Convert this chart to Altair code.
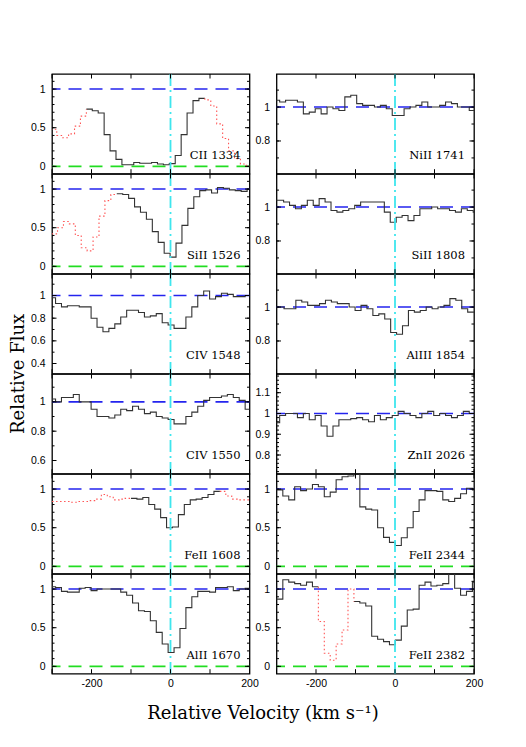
import altair as alt
import pandas as pd

LINES_LEFT = ["CII 1334", "SiII 1526", "CIV 1548", "CIV 1550", "FeII 1608", "AlII 1670"]
LINES_RIGHT = ["NiII 1741", "SiII 1808", "AlIII 1854", "ZnII 2026", "FeII 2344", "FeII 2382"]

# left edges of the 15 km/s pixel grid (before the per-line shift)
BIN_START = [-315, -300, -285, -270, -255, -240, -225, -210, -195, -180, -165, -150,
             -135, -120, -105, -90, -75, -60, -45, -30, -15, 0, 15, 30, 45, 60, 75,
             90, 105, 120, 135, 150, 165, 180, 195]
BIN_WIDTH = 15
GRID_SHIFT = {
    "CII 1334": 12, "SiII 1526": 14, "CIV 1548": 9, "CIV 1550": 9, "FeII 1608": 5,
    "AlII 1670": 9, "NiII 1741": 8, "SiII 1808": 3, "AlIII 1854": 4, "ZnII 2026": 8,
    "FeII 2344": 1, "FeII 2382": 1,
}

FLUX = {
    "CII 1334": [0.48, 0.40, 0.37, 0.42, 0.52, 0.65, 0.74, 0.72, 0.69, 0.41, 0.20, 0.09,
                 0.02, 0.02, 0.05, 0.04, 0.04, 0.05, 0.03, 0.02, 0.035, 0.14, 0.41, 0.69,
                 0.85, 0.88, 0.86, 0.78, 0.55, 0.36, 0.20, 0.10, 0.03, 0.00, 0.00],
    "SiII 1526": [0.42, 0.50, 0.58, 0.55, 0.40, 0.24, 0.20, 0.38, 0.65, 0.85, 0.93,
                  0.94, 0.93, 0.88, 0.77, 0.70, 0.61, 0.45, 0.31, 0.17, 0.12, 0.30, 0.53,
                  0.75, 0.90, 0.98, 0.99, 0.95, 1.02, 1.01, 0.99, 0.98, 0.97, 1.00, 1.00],
    "CIV 1548": [0.98, 0.93, 0.90, 0.91, 0.91, 0.90, 0.90, 0.80, 0.72, 0.68, 0.71, 0.75,
                 0.81, 0.87, 0.87, 0.85, 0.81, 0.82, 0.84, 0.76, 0.74, 0.71, 0.71, 0.81,
                 0.90, 1.00, 1.04, 0.97, 0.99, 1.02, 1.01, 0.99, 0.99, 1.00, 1.00],
    "CIV 1550": [1.02, 1.00, 1.03, 1.03, 1.05, 1.00, 1.00, 0.95, 0.90, 0.90, 0.89, 0.91,
                 0.95, 0.94, 0.97, 0.95, 0.92, 0.93, 0.90, 0.89, 0.88, 0.85, 0.85, 0.90,
                 0.93, 0.97, 1.01, 1.03, 1.03, 1.04, 1.05, 1.03, 1.01, 0.95, 0.95],
    "FeII 1608": [0.84, 0.84, 0.84, 0.84, 0.83, 0.84, 0.84, 0.85, 0.87, 0.93, 0.90, 0.86,
                  0.87, 0.88, 0.88, 0.87, 0.89, 0.80, 0.74, 0.63, 0.50, 0.51, 0.67, 0.80,
                  0.86, 0.87, 0.89, 0.93, 0.97, 0.97, 0.91, 0.87, 0.86, 0.86, 0.86],
    "AlII 1670": [1.03, 1.02, 0.97, 0.96, 0.96, 1.01, 1.02, 0.98, 1.00, 1.00, 1.00, 1.00,
                  0.96, 0.92, 0.82, 0.72, 0.71, 0.59, 0.44, 0.29, 0.18, 0.24, 0.49, 0.76,
                  0.90, 0.97, 0.97, 0.96, 1.02, 1.02, 1.03, 0.98, 1.00, 1.01, 1.01],
    "NiII 1741": [1.04, 1.03, 1.04, 1.04, 1.03, 0.96, 0.97, 0.99, 0.96, 1.00, 0.99, 0.98,
                  1.06, 1.07, 1.02, 1.01, 1.01, 1.00, 1.01, 0.99, 0.95, 0.95, 0.99, 1.00,
                  1.01, 1.03, 1.00, 1.00, 1.01, 1.03, 1.02, 1.00, 1.00, 0.98, 1.00],
    "SiII 1808": [1.04, 1.04, 1.03, 1.01, 0.99, 1.01, 1.04, 1.01, 1.05, 1.03, 0.98, 0.97,
                  0.98, 0.99, 1.01, 1.03, 1.03, 1.03, 1.03, 0.97, 0.91, 0.94, 0.95, 0.92,
                  0.95, 0.99, 0.99, 1.00, 0.99, 0.99, 0.98, 0.97, 0.99, 0.98, 0.97],
    "AlIII 1854": [1.00, 1.00, 0.99, 0.99, 1.04, 1.03, 1.01, 1.01, 1.02, 1.04, 1.03, 1.02,
                   1.02, 1.00, 0.98, 1.01, 0.99, 0.95, 0.96, 0.93, 0.85, 0.84, 0.89, 0.98,
                   0.97, 0.98, 1.00, 0.99, 1.00, 1.01, 1.05, 1.04, 0.99, 0.97, 0.97],
    "ZnII 2026": [0.955, 0.99, 1.00, 1.00, 0.98, 1.00, 0.97, 0.99, 0.94, 0.89, 0.94, 0.97,
                  0.97, 0.975, 0.98, 0.97, 0.96, 0.99, 0.97, 0.98, 0.99, 1.01, 1.00, 0.99,
                  0.98, 1.00, 1.01, 0.99, 1.00, 0.99, 0.98, 0.99, 1.01, 1.00, 1.00],
    "FeII 2344": [0.99, 0.99, 0.91, 0.86, 1.03, 0.98, 1.00, 1.06, 1.03, 0.90, 0.96, 1.12,
                  1.16, 1.17, 1.30, 0.77, 0.74, 0.73, 0.50, 0.375, 0.31, 0.27, 0.37, 0.50,
                  0.71, 0.86, 0.98, 0.98, 0.97, 0.86, 0.84, 0.88, 0.94, 1.01, 0.99],
    "FeII 2382": [0.87, 0.87, 1.12, 1.09, 1.07, 1.05, 1.09, 1.03, 0.58, 0.17, 0.08, 0.29,
                  0.47, 1.00, 0.84, 0.82, 0.78, 0.39, 0.35, 0.32, 0.28, 0.34, 0.52, 0.73,
                  0.74, 1.05, 1.09, 1.04, 1.05, 1.07, 1.35, 1.01, 0.92, 0.97, 1.09],
}

# velocity ranges (bin start) drawn as red dotted (blended regions)
RED_RANGES = {
    "CII 1334": [(-999, -213), (87, 999)],
    "SiII 1526": [(-999, -136)],
    "FeII 1608": [(-999, -100), (125, 999)],
    "FeII 2382": [(-194, -104)],
}

BIG = (-0.095, 1.195)
Y_DOMAIN = {
    "CII 1334": BIG, "SiII 1526": BIG, "CIV 1548": (0.31, 1.19), "CIV 1550": (0.51, 1.19),
    "FeII 1608": BIG, "AlII 1670": BIG, "NiII 1741": (0.607, 1.195),
    "SiII 1808": (0.607, 1.195), "AlIII 1854": (0.607, 1.195), "ZnII 2026": (0.71, 1.19),
    "FeII 2344": BIG, "FeII 2382": BIG,
}
Y_MAJOR = {
    "CII 1334": [0, 0.5, 1], "SiII 1526": [0, 0.5, 1], "CIV 1548": [0.4, 0.6, 0.8, 1],
    "CIV 1550": [0.6, 0.8, 1], "FeII 1608": [0, 0.5, 1], "AlII 1670": [0, 0.5, 1],
    "NiII 1741": [0.8, 1], "SiII 1808": [0.8, 1], "AlIII 1854": [0.8, 1],
    "ZnII 2026": [0.8, 0.9, 1, 1.1], "FeII 2344": [0, 0.5, 1], "FeII 2382": [0, 0.5, 1],
}
Y_MINOR_STEP = {
    "CII 1334": 0.1, "SiII 1526": 0.1, "CIV 1548": 0.1, "CIV 1550": 0.1, "FeII 1608": 0.1,
    "AlII 1670": 0.1, "NiII 1741": 0.1, "SiII 1808": 0.1, "AlIII 1854": 0.1,
    "ZnII 2026": 0.02, "FeII 2344": 0.1, "FeII 2382": 0.1,
}
X_TICKS = [-300, -200, -100, 0, 100, 200]
X_LABELS = [-200, 0, 200]

W, H = 197.5, 99.7
L, LM = 4.5, 2.5
TICK_FONT = "Liberation Sans"
SERIF = "DejaVu Serif"


def minor_ticks(lo, hi, step):
    out = []
    k = int(lo / step) - 1
    while k * step <= hi:
        v = round(k * step, 4)
        if lo < v < hi:
            out.append(v)
        k += 1
    return out


def build_rows(name):
    shift = GRID_SHIFT[name]
    fl = FLUX[name]
    edges = [b + shift for b in BIN_START] + [BIN_START[-1] + BIN_WIDTH + shift]
    n = len(fl)
    red = [any(a <= edges[i] < b for a, b in RED_RANGES.get(name, [])) for i in range(n)]
    rows = []
    run = 0
    i = 0
    while i < n:
        j = i
        while j < n and red[j] == red[i]:
            j += 1
        pts = []
        if red[i] and i > 0:
            pts.append((edges[i], fl[i - 1]))
        for k in range(i, j):
            pts.append((edges[k], fl[k]))
        pts.append((edges[j], fl[j - 1]))
        if red[i] and j < n:
            pts.append((edges[j], fl[j]))
        for o, (v, f) in enumerate(pts):
            rows.append({"run": run, "ord": o, "v": v, "f": f,
                         "style": "red" if red[i] else "black"})
        run += 1
        i = j
    return pd.DataFrame(rows, columns=["run", "ord", "v", "f", "style"])


def panel(name, row, col):
    lo, hi = Y_DOMAIN[name]
    xs = alt.Scale(domain=[-300, 200], nice=False, zero=False)
    ys = alt.Scale(domain=[lo, hi], nice=False, zero=False)
    df = build_rows(name)
    blk = df[df["style"] == "black"]
    red = df[df["style"] == "red"]
    minor = minor_ticks(lo, hi, Y_MINOR_STEP[name])

    xkw = dict(orient="bottom", values=X_LABELS, ticks=False, domain=False, grid=False,
               labels=(row == 5), labelFlush=False, labelPadding=5,
               labelExpr="(datum.value < 0 ? '-' : '') + abs(datum.value)")
    if row == 5 and col == 0:
        xkw.update(title="Relative Velocity (km s\u207b\u00b9)", titleX=210.5, titleY=44.5,
                   titleAlign="center", titleBaseline="alphabetic")
    else:
        xkw.update(title=None)
    xaxis = alt.Axis(**xkw)

    ykw = dict(orient="left", values=Y_MAJOR[name], ticks=False, domain=False, grid=False,
               labels=True, format="~g", labelPadding=7)
    if row == 2 and col == 0:
        ykw.update(title="Relative Flux", titleX=-34, titleY=99.4, titleAngle=-90,
                   titleAlign="center", titleBaseline="middle")
    else:
        ykw.update(title=None)
    yaxis = alt.Axis(**ykw)

    ymaj = pd.DataFrame({"t": Y_MAJOR[name]})
    ymin = pd.DataFrame({"t": minor})
    xmaj = pd.DataFrame({"t": X_TICKS})

    def ytick(data, x0, x1):
        return alt.Chart(data).mark_rule(color="black", strokeWidth=1).encode(
            y=alt.Y("t:Q", scale=ys, axis=yaxis), x=alt.value(x0), x2=alt.value(x1))

    def xtick(data, y0, y1):
        return alt.Chart(data).mark_rule(color="black", strokeWidth=1).encode(
            x=alt.X("t:Q", scale=xs, axis=xaxis), y=alt.value(y0), y2=alt.value(y1))

    ticks = [
        ytick(ymaj, 0, L), ytick(ymaj, W, W - L),
        ytick(ymin, 0, LM), ytick(ymin, W, W - LM),
        xtick(xmaj, 0, L), xtick(xmaj, H, H - L),
    ]

    blue = alt.Chart().mark_rule(color="#2424ee", strokeWidth=1.6, strokeDash=[13, 8]).encode(
        y=alt.Y(datum=1, scale=ys, axis=yaxis))
    green = alt.Chart().mark_rule(color="#22dd22", strokeWidth=1.6, strokeDash=[13, 8],
                                  clip=True).encode(
        y=alt.Y(datum=0, scale=ys, axis=yaxis))
    black = alt.Chart(blk).mark_line(interpolate="step-after", color="#333333",
                                     strokeWidth=1.1, clip=True).encode(
        x=alt.X("v:Q", scale=xs, axis=xaxis),
        y=alt.Y("f:Q", scale=ys, axis=yaxis),
        detail="run:N", order="ord:Q")
    layers = [blue, green, black]
    if len(red):
        redl = alt.Chart(red).mark_line(interpolate="step-after", color="#ff5555",
                                        strokeWidth=1.1, strokeDash=[1.5, 2.5],
                                        clip=True).encode(
            x=alt.X("v:Q", scale=xs, axis=xaxis),
            y=alt.Y("f:Q", scale=ys, axis=yaxis),
            detail="run:N", order="ord:Q")
        layers.append(redl)
    cyan = alt.Chart().mark_rule(color="#3ee6ee", strokeWidth=1.8,
                                 strokeDash=[12, 4, 2, 4]).encode(
        x=alt.X(datum=0, scale=xs, axis=xaxis))
    label = alt.Chart().mark_text(text=name, align="right", baseline="alphabetic",
                                  font=SERIF, fontSize=11.5, color="black").encode(
        x=alt.value(W - 9), y=alt.value(H - 15))
    layers += [cyan, label] + ticks

    return alt.layer(*layers).properties(width=W, height=H)


panels = []
for i in range(6):
    panels.append(panel(LINES_LEFT[i], i, 0))
    panels.append(panel(LINES_RIGHT[i], i, 1))

chart = alt.concat(*panels, columns=2, spacing={"row": 0, "column": 26.5},
                   bounds="flush").properties(
    autosize=alt.AutoSizeParams(type="none"),
    padding={"left": 44, "top": 66, "right": 460, "bottom": 660},
).configure_view(stroke="black", strokeWidth=1.3).configure_axis(
    labelFont=TICK_FONT, labelFontSize=10.5, labelColor="black",
    titleFont=SERIF, titleFontSize=18, titleColor="black", titleFontWeight="normal")

chart.save("out.html", embed_options={"renderer": "svg", "actions": False})
